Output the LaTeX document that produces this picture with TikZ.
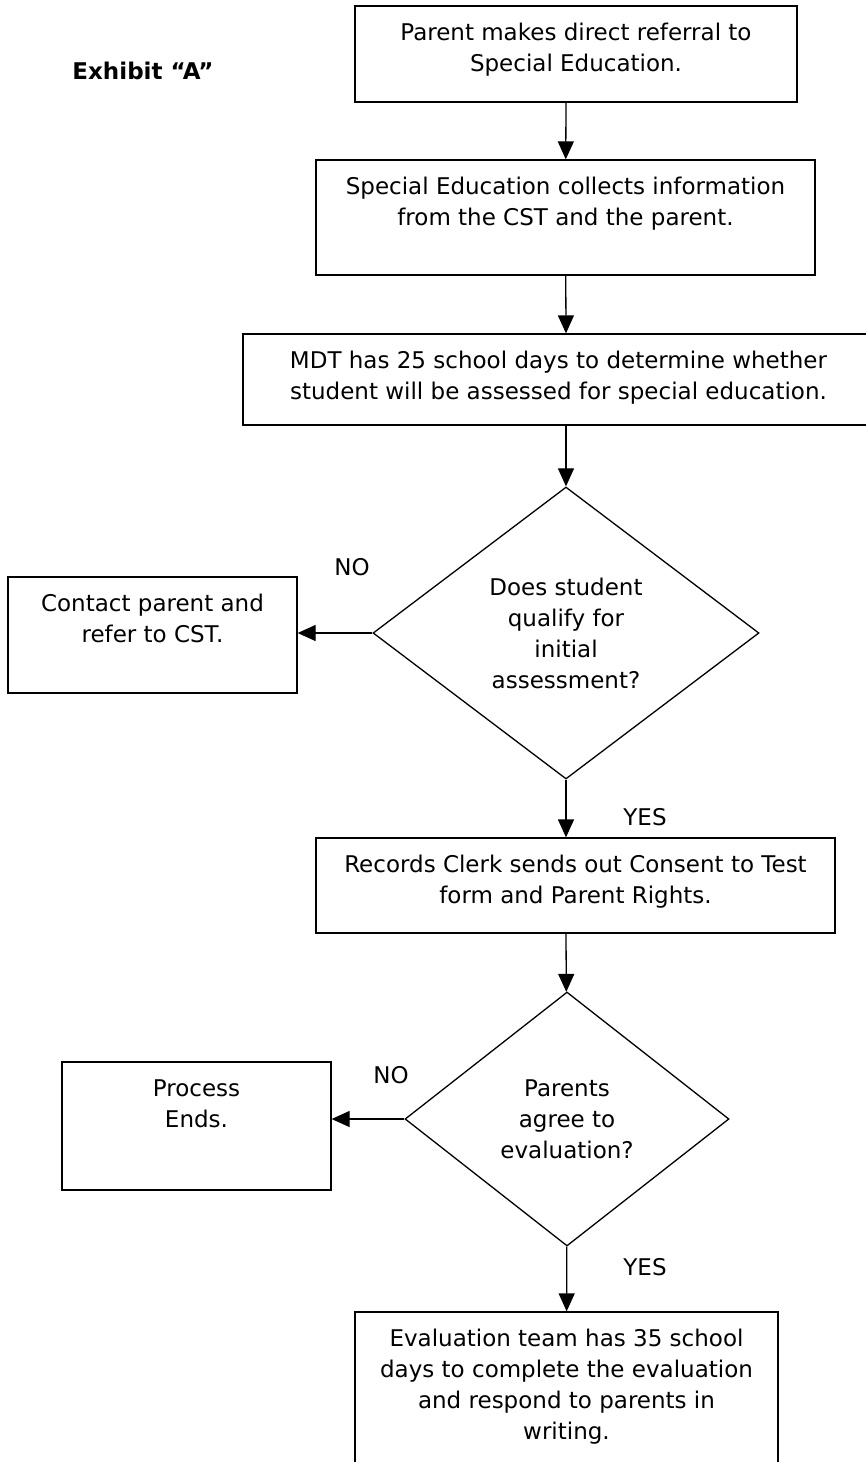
\documentclass[tikz,border=0pt]{standalone}
\usepackage{fontspec}
\setmainfont{DejaVu Sans}
\usetikzlibrary{shapes.geometric,arrows.meta}
\newcommand{\boxfont}{\fontsize{23}{31}\selectfont}

\begin{document}
\begin{tikzpicture}[x=1pt,y=-1pt,line width=1.3pt,
  every node/.style={font=\boxfont},
  stepbox/.style 2 args={draw, rectangle, inner xsep=0pt, inner ysep=13pt,
    execute at begin node={\begin{minipage}[c][#2][t]{#1}\centering\strut},
    execute at end node={\end{minipage}}},
  choice/.style 2 args={draw, diamond, align=center, inner sep=0pt, minimum width=#1, minimum height=#2},
  flow/.style={-{Triangle[length=18pt,width=16pt]}},
  answer/.style={inner sep=0pt}]
\useasboundingbox (0,0) rectangle (866,1462);

\node[font=\boxfont\bfseries] (exhibit) at (143,71) {Exhibit “A”};

% main column
\node[stepbox={442pt}{70pt}] (referral) at (576,54) {Parent makes direct referral to\\Special Education.};
\node[stepbox={499pt}{89pt}] (collect) at (565.5,217.5) {Special Education collects information\\from the CST and the parent.};
\node[stepbox={631pt}{65pt}] (mdt) at (558.5,379.5) {MDT has 25 school days to determine whether\\student will be assessed for special education.};
\node[choice={386pt}{292pt}] (qualify) at (566,633) {Does student\\qualify for\\initial\\assessment?};
\node[stepbox={519pt}{69pt}] (consent) at (575.5,885.5) {Records Clerk sends out Consent to Test\\form and Parent Rights.};
\node[choice={324pt}{254pt}] (agree) at (567,1119) {Parents\\agree to\\evaluation?};
\node[stepbox={423pt}{137pt}] (evaluate) at (566.5,1393.5) {Evaluation team has 35 school\\days to complete the evaluation\\and respond to parents in\\writing.};

% side exits
\node[stepbox={289pt}{90pt}] (contact) at (152.5,635) {Contact parent and\\refer to CST.};
\node[stepbox={269pt}{102pt}] (ends) at (196.5,1126) {Process\\Ends.};

\node[answer] (no1) at (352,567) {NO};
\node[answer] (yes1) at (645,817) {YES};
\node[answer] (no2) at (391,1075) {NO};
\node[answer] (yes2) at (645,1267) {YES};

\draw[flow] (referral.south -| qualify) -- (collect);
\draw[flow] (collect) -- (mdt.north -| qualify);
\draw[flow] (mdt.south -| qualify) -- (qualify);
\draw[flow] (qualify) -- (consent.north -| qualify);
\draw[flow] (consent.south -| qualify) -- (agree);
\draw[flow] (agree) -- (evaluate);
\draw[flow] (qualify.west) -- (contact.east |- qualify.west);
\draw[flow] (agree.west) -- (ends.east |- agree.west);
\end{tikzpicture}
\end{document}
